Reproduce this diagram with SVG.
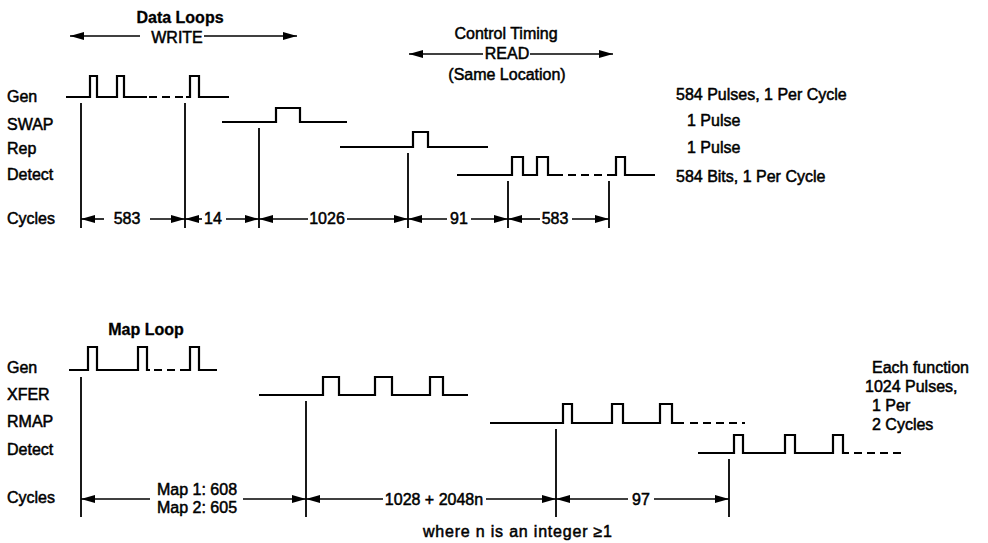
<svg xmlns="http://www.w3.org/2000/svg" width="988" height="543" viewBox="0 0 988 543">
<style>
text{font-family:"Liberation Sans",Arial,sans-serif;font-size:16px;fill:#000;stroke:#000;stroke-width:0.5}
.b{font-weight:bold;stroke-width:0.3}
.m{text-anchor:middle}
.w{fill:none;stroke:#000;stroke-width:2.2;stroke-linejoin:miter}
.d{fill:none;stroke:#000;stroke-width:2.2;stroke-dasharray:8,5}
.v{stroke:#000;stroke-width:1.8}
.a{stroke:#000;stroke-width:1.6;marker-end:url(#ah)}
</style>
<defs>
<marker id="ah" markerUnits="userSpaceOnUse" markerWidth="14" markerHeight="9" refX="14" refY="4.5" orient="auto">
<path d="M0,0.5 L14,4.5 L0,8.5 z" fill="#000"/>
</marker>
</defs>
<rect width="988" height="543" fill="#fff"/>

<g id="header-write">
<text class="b m" x="180" y="23">Data Loops</text>
<text class="m" x="177" y="43">WRITE</text>
</g>
<g id="header-read">
<text class="m" x="506" y="39">Control Timing</text>
<text class="m" x="507" y="59">READ</text>
<text class="m" x="507" y="80">(Same Location)</text>
</g>

<g id="labels-top">
<text x="7" y="102">Gen</text>
<text x="7" y="130">SWAP</text>
<text x="7" y="154">Rep</text>
<text x="7" y="180">Detect</text>
<text x="7" y="224">Cycles</text>
</g>

<g id="wave-gen-top">
<path class="w" d="M66,97 H90 V76 H97 V97 H117 V76 H124 V97 H147"/>
<path class="d" d="M149,97 H186"/>
<path class="w" d="M186,97 H190 V76 H199 V97 H229"/>
</g>
<g id="wave-swap">
<path class="w" d="M222,122 H276 V108 H300 V122 H347"/>
</g>
<g id="wave-rep">
<path class="w" d="M340,147 H413 V132 H428 V147 H488"/>
</g>
<g id="wave-detect-top">
<path class="w" d="M457,175 H512 V157 H523 V175 H537 V157 H548 V175 H563"/>
<path class="d" d="M568,175 H612"/>
<path class="w" d="M612,175 H616 V157 H625 V175 H655"/>
</g>

<g id="notes-top">
<text x="676" y="100">584 Pulses, 1 Per Cycle</text>
<text x="687" y="126">1 Pulse</text>
<text x="687" y="153">1 Pulse</text>
<text x="676" y="182">584 Bits, 1 Per Cycle</text>
</g>

<g id="cycles-top-labels">
<text class="m" x="127" y="224">583</text>
<text class="m" x="213" y="224">14</text>
<text class="m" x="327" y="224">1026</text>
<text class="m" x="459" y="224">91</text>
<text class="m" x="555" y="224">583</text>
</g>

<g id="map-title">
<text class="b m" x="146" y="335">Map Loop</text>
</g>
<g id="labels-bottom">
<text x="7" y="373">Gen</text>
<text x="7" y="400">XFER</text>
<text x="7" y="427">RMAP</text>
<text x="7" y="455">Detect</text>
<text x="7" y="503">Cycles</text>
</g>

<g id="wave-gen-bottom">
<path class="w" d="M69,370 H88 V347 H97 V370 H138 V347 H147 V370 H150"/>
<path class="d" d="M154,370 H188"/>
<path class="w" d="M186,370 H190 V347 H199 V370 H217"/>
</g>
<g id="wave-xfer">
<path class="w" d="M259,395 H323 V377 H339 V395 H375 V377 H392 V395 H430 V377 H443 V395 H468"/>
</g>
<g id="wave-rmap">
<path class="w" d="M490,423 H563 V404 H572 V423 H612 V404 H623 V423 H660 V404 H672 V423 H684"/>
<path class="d" d="M690,423 H745"/>
</g>
<g id="wave-detect-bottom">
<path class="w" d="M698,453 H734 V435 H743 V453 H785 V435 H795 V453 H833 V435 H843 V453 H849"/>
<path class="d" d="M854,453 H902"/>
</g>

<g id="notes-bottom">
<text x="872" y="373">Each function</text>
<text x="865" y="392">1024 Pulses,</text>
<text x="872" y="411">1 Per</text>
<text x="872" y="430">2 Cycles</text>
</g>

<g id="cycles-bottom-labels">
<text class="m" x="197" y="495">Map 1: 608</text>
<text class="m" x="197" y="513">Map 2: 605</text>
<text class="m" x="434" y="505">1028 + 2048n</text>
<text class="m" x="641" y="505">97</text>
<text x="423" y="537" textLength="189" lengthAdjust="spacing">where n is an integer ≥1</text>
</g>

<g id="connectors">
<line class="a" x1="140" y1="36" x2="70" y2="36"/>
<line class="a" x1="204" y1="36" x2="297" y2="36"/>
<line class="a" x1="483" y1="54" x2="409" y2="54"/>
<line class="a" x1="530" y1="54" x2="613" y2="54"/>

<line class="v" x1="81" y1="103" x2="81" y2="228"/>
<line class="v" x1="185" y1="103" x2="185" y2="228"/>
<line class="v" x1="259" y1="128" x2="259" y2="228"/>
<line class="v" x1="408" y1="153" x2="408" y2="228"/>
<line class="v" x1="508" y1="181" x2="508" y2="228"/>
<line class="v" x1="609" y1="181" x2="609" y2="228"/>

<line class="a" x1="104" y1="219" x2="81" y2="219"/>
<line class="a" x1="150" y1="219" x2="185" y2="219"/>
<line class="a" x1="202" y1="219" x2="185" y2="219"/>
<line class="a" x1="226" y1="219" x2="259" y2="219"/>
<line class="a" x1="308" y1="219" x2="259" y2="219"/>
<line class="a" x1="347" y1="219" x2="408" y2="219"/>
<line class="a" x1="447" y1="219" x2="408" y2="219"/>
<line class="a" x1="471" y1="219" x2="508" y2="219"/>
<line class="a" x1="540" y1="219" x2="508" y2="219"/>
<line class="a" x1="572" y1="219" x2="609" y2="219"/>

<line class="v" x1="81" y1="377" x2="81" y2="517"/>
<line class="v" x1="306" y1="401" x2="306" y2="517"/>
<line class="v" x1="556" y1="429" x2="556" y2="517"/>
<line class="v" x1="729" y1="459" x2="729" y2="517"/>

<line class="a" x1="150" y1="499" x2="81" y2="499"/>
<line class="a" x1="243" y1="499" x2="306" y2="499"/>
<line class="a" x1="383" y1="499" x2="306" y2="499"/>
<line class="a" x1="486" y1="499" x2="556" y2="499"/>
<line class="a" x1="628" y1="499" x2="556" y2="499"/>
<line class="a" x1="654" y1="499" x2="729" y2="499"/>
</g>
</svg>
